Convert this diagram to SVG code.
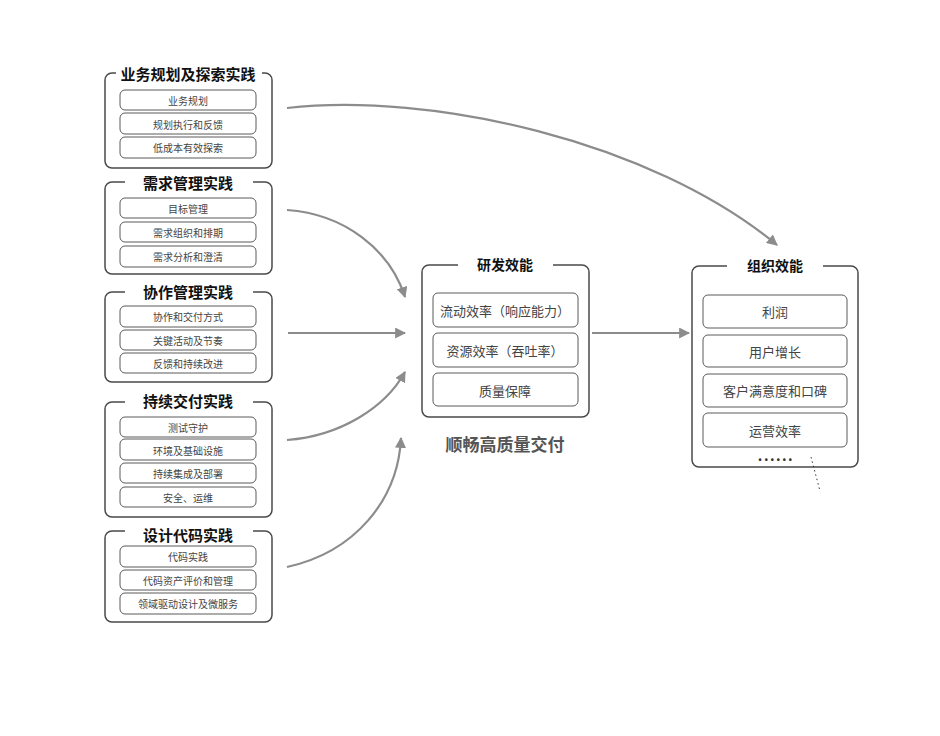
<svg xmlns="http://www.w3.org/2000/svg" width="940" height="736" viewBox="0 0 940 736">
<defs>
<style>
.frame{fill:none;stroke:#4a4a4a;stroke-width:1.5}
.gap{fill:#fff;stroke:none}
.item{fill:#fff;stroke:#5a5a5a;stroke-width:1}
.t{font-family:"Noto Sans CJK SC","Noto Sans",sans-serif;text-anchor:middle;dominant-baseline:central}
.gt{font-size:15px;font-weight:bold;fill:#111}
.it{font-size:10px;fill:#444}
.mt{font-size:13px;fill:#444}
.conn{fill:none;stroke:#8c8c8c;stroke-width:2.2}
</style>
<marker id="ah" viewBox="0 0 10 10" refX="9" refY="5" markerWidth="5" markerHeight="5" markerUnits="strokeWidth" orient="auto">
<path d="M0,0 L10,5 L0,10 z" fill="#8c8c8c"/>
</marker>
</defs>
<rect width="940" height="736" fill="#fff"/>

<g id="g1">
<rect class="frame" x="105" y="73" width="167" height="95" rx="7"/>
<rect class="gap" x="116" y="65" width="146" height="16"/>
<text class="t gt" x="188" y="73">业务规划及探索实践</text>
<rect class="item" x="120" y="90" width="136" height="20" rx="5"/>
<text class="t it" x="188" y="100">业务规划</text>
<rect class="item" x="120" y="113" width="136" height="21" rx="5"/>
<text class="t it" x="188" y="124">规划执行和反馈</text>
<rect class="item" x="120" y="137" width="136" height="21" rx="5"/>
<text class="t it" x="188" y="147">低成本有效探索</text>
</g>

<g id="g2">
<rect class="frame" x="105" y="182" width="167" height="92" rx="7"/>
<rect class="gap" x="125" y="174" width="128" height="16"/>
<text class="t gt" x="188" y="182">需求管理实践</text>
<rect class="item" x="120" y="198" width="136" height="20" rx="5"/>
<text class="t it" x="188" y="208">目标管理</text>
<rect class="item" x="120" y="222" width="136" height="20" rx="5"/>
<text class="t it" x="188" y="232">需求组织和排期</text>
<rect class="item" x="120" y="246" width="136" height="21" rx="5"/>
<text class="t it" x="188" y="256">需求分析和澄清</text>
</g>

<g id="g3">
<rect class="frame" x="105" y="292" width="167" height="90" rx="7"/>
<rect class="gap" x="125" y="284" width="128" height="16"/>
<text class="t gt" x="188" y="291">协作管理实践</text>
<rect class="item" x="120" y="306" width="136" height="21" rx="5"/>
<text class="t it" x="188" y="316">协作和交付方式</text>
<rect class="item" x="120" y="330" width="136" height="20" rx="5"/>
<text class="t it" x="188" y="340">关键活动及节奏</text>
<rect class="item" x="120" y="353" width="136" height="20" rx="5"/>
<text class="t it" x="188" y="363">反馈和持续改进</text>
</g>

<g id="g4">
<rect class="frame" x="105" y="402" width="167" height="115" rx="7"/>
<rect class="gap" x="125" y="393" width="128" height="16"/>
<text class="t gt" x="188" y="400">持续交付实践</text>
<rect class="item" x="120" y="417" width="136" height="20" rx="5"/>
<text class="t it" x="188" y="427">测试守护</text>
<rect class="item" x="120" y="439" width="136" height="21" rx="5"/>
<text class="t it" x="188" y="450">环境及基础设施</text>
<rect class="item" x="120" y="463" width="136" height="20" rx="5"/>
<text class="t it" x="188" y="473">持续集成及部署</text>
<rect class="item" x="120" y="487" width="136" height="20" rx="5"/>
<text class="t it" x="188" y="497">安全、运维</text>
</g>

<g id="g5">
<rect class="frame" x="105" y="531" width="167" height="91" rx="7"/>
<rect class="gap" x="125" y="526" width="128" height="16"/>
<text class="t gt" x="188" y="534">设计代码实践</text>
<rect class="item" x="120" y="546" width="136" height="21" rx="5"/>
<text class="t it" x="188" y="556">代码实践</text>
<rect class="item" x="120" y="570" width="136" height="20" rx="5"/>
<text class="t it" x="188" y="580">代码资产评价和管理</text>
<rect class="item" x="120" y="593" width="136" height="21" rx="5"/>
<text class="t it" x="188" y="603">领域驱动设计及微服务</text>
</g>

<g id="rd">
<rect class="frame" x="422" y="265" width="167" height="152" rx="7"/>
<rect class="gap" x="458" y="257" width="95" height="16"/>
<text class="t gt" x="505" y="264" style="font-size:14px">研发效能</text>
<rect class="item" x="433" y="293" width="145" height="34" rx="5"/>
<text class="t mt" x="505" y="310">流动效率（响应能力）</text>
<rect class="item" x="433" y="333" width="145" height="34" rx="5"/>
<text class="t mt" x="505" y="350">资源效率（吞吐率）</text>
<rect class="item" x="433" y="373" width="145" height="33" rx="5"/>
<text class="t mt" x="505" y="390">质量保障</text>
<text class="t" x="505" y="443" style="font-size:17px;font-weight:bold;fill:#555">顺畅高质量交付</text>
</g>

<g id="org">
<rect class="frame" x="692" y="266" width="166" height="201" rx="7"/>
<rect class="gap" x="727" y="258" width="96" height="16"/>
<text class="t gt" x="775" y="265" style="font-size:14px">组织效能</text>
<rect class="item" x="703" y="295" width="144" height="33" rx="5"/>
<text class="t mt" x="775" y="311">利润</text>
<rect class="item" x="703" y="335" width="144" height="32" rx="5"/>
<text class="t mt" x="775" y="351">用户增长</text>
<rect class="item" x="703" y="374" width="144" height="33" rx="5"/>
<text class="t mt" x="775" y="390">客户满意度和口碑</text>
<rect class="item" x="703" y="413" width="144" height="34" rx="5"/>
<text class="t mt" x="775" y="430">运营效率</text>
<text class="t" x="776" y="455" style="font-size:14px;font-weight:bold;fill:#333;letter-spacing:1.5px">......</text>
</g>

<g id="connectors">
<path class="conn" marker-end="url(#ah)" d="M287,108 C430,92 650,140 777,245"/>
<path class="conn" marker-end="url(#ah)" d="M287,210 C345,214 390,250 405,297"/>
<path class="conn" marker-end="url(#ah)" d="M288,333 L405,333"/>
<path class="conn" marker-end="url(#ah)" d="M287,440 C340,436 385,408 405,372"/>
<path class="conn" marker-end="url(#ah)" d="M287,567 C355,552 398,500 401,438"/>
<path class="conn" marker-end="url(#ah)" d="M592,333 L689,333"/>
<path d="M811,457 L820,491" fill="none" stroke="#333" stroke-width="1" stroke-dasharray="1.5,3"/>
</g>
</svg>
